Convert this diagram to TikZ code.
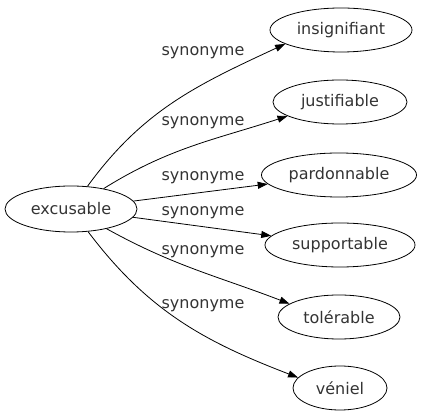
\documentclass[tikz,border=0pt]{standalone}
\usepackage{fontspec}
\setmainfont{DejaVu Sans}
\usetikzlibrary{shapes.geometric,arrows.meta}
\definecolor{ink}{rgb}{0.2,0.2,0.2}
\tikzset{%
  word/.style={ellipse,draw,line width=0.8pt,inner sep=0pt,minimum height=44pt,minimum width=#1,text=ink,font=\fontsize{16}{19}\selectfont},
  word/.default=130pt,
  syn/.style={draw,line width=0.8pt,-{Triangle[length=10pt,width=7pt]}},
  tag/.style={text=ink,font=\fontsize{16}{19}\selectfont,inner sep=0pt}
}
\begin{document}
\begin{tikzpicture}[x=1pt,y=1pt]
  \useasboundingbox (0,0) rectangle (423,-419);
  \node[word=132pt,minimum height=46pt] (exc) at (71,-209) {excusable};
  \node[word=142pt] (ins) at (341,-30) {insignifiant};
  \node[word=134pt] (jus) at (340,-102) {justifiable};
  \node[word=155pt] (par) at (339,-175) {pardonnable};
  \node[word=150pt] (sup) at (340,-245) {supportable};
  \node[word=122pt] (tol) at (339,-317) {tolérable};
  \node[word=94pt] (ven) at (340,-388) {véniel};
  %%
  \draw[syn] (exc.54) to[out=54,in=205] (ins.194);
  \draw[syn] (exc.32) to[out=32,in=198] (jus.195);
  \draw[syn] (exc) -- (par);
  \draw[syn] (exc) -- (sup);
  \draw[syn] (exc.-29) to[out=-29,in=159] (tol.165);
  \draw[syn] (exc.-53) to[out=-53,in=159] (ven.166);
  %%
  \node[tag] (t1) at (203,-53) {synonyme};
  \node[tag] (t2) at (203,-123) {synonyme};
  \node[tag] (t3) at (203,-178) {synonyme};
  \node[tag] (t4) at (203,-213) {synonyme};
  \node[tag] (t5) at (203,-252) {synonyme};
  \node[tag] (t6) at (203,-306) {synonyme};
\end{tikzpicture}
\end{document}
